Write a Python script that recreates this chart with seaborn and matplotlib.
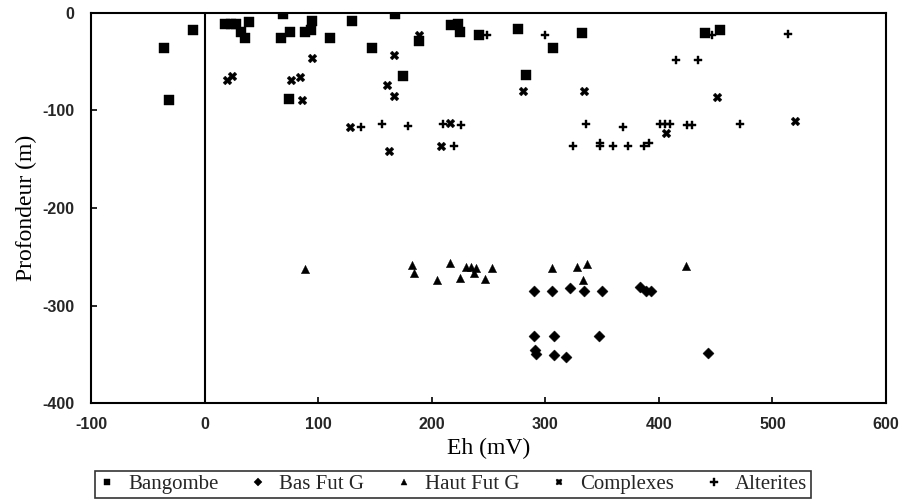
import matplotlib
matplotlib.use("Agg")
import matplotlib.pyplot as plt
import seaborn as sns
import pandas as pd

# ---------------- data ----------------
bangombe_eh = [-10, -36, -31, 18, 23, 28, 32, 36, 39, 69, 67, 75, 88, 94, 95, 110,
               130, 147, 168, 189, 217, 223, 225, 242, 276, 307, 332, 441, 454,
               175, 283, 74]
bangombe_z = [-18, -36, -89, -12, -12, -12, -20, -26, -10, -1, -26, -20, -20, -18, -9, -26,
              -9, -36, -1, -29, -13, -12, -20, -23, -17, -36, -21, -21, -18,
              -65, -64, -88]

basfut_eh = [290, 306, 322, 334, 350, 383, 389, 393, 290, 308, 347, 291, 292, 308, 318, 443]
basfut_z = [-285, -285, -282, -285, -285, -281, -285, -285, -331, -331, -331, -345, -350,
            -351, -353, -349]

hautfut_eh = [88, 183, 184, 205, 216, 225, 230, 235, 239, 237, 247, 253, 306, 328, 337, 333, 424]
hautfut_z = [-262, -258, -267, -274, -256, -272, -260, -260, -261, -267, -273, -261, -261,
             -260, -257, -274, -259]

complexes_eh = [20, 24, 76, 84, 86, 95, 128, 167, 189, 161, 167, 216, 162, 208, 280, 334,
                406, 451, 520]
complexes_z = [-69, -65, -69, -66, -89, -46, -117, -43, -23, -74, -85, -113, -142, -137,
               -80, -80, -123, -86, -111]

alterites_eh = [138, 156, 179, 210, 226, 220, 300, 324, 336, 348, 348, 360, 368, 373, 387,
                391, 401, 405, 410, 425, 429, 415, 434, 471, 514, 447, 249]
alterites_z = [-117, -114, -116, -114, -115, -137, -23, -137, -114, -133, -137, -137, -117,
               -137, -137, -133, -114, -114, -114, -115, -115, -48, -48, -114, -22, -23, -23]

groups = ["Bangombe", "Bas Fut G", "Haut Fut G", "Complexes", "Alterites"]
x_ticks = [-100, 0, 100, 200, 300, 400, 500, 600]
y_ticks = [0, -100, -200, -300, -400]

series = {
    "Bangombe": (bangombe_eh, bangombe_z),
    "Bas Fut G": (basfut_eh, basfut_z),
    "Haut Fut G": (hautfut_eh, hautfut_z),
    "Complexes": (complexes_eh, complexes_z),
    "Alterites": (alterites_eh, alterites_z),
}
rows = []
for g in groups:
    for e, z in zip(*series[g]):
        rows.append({"Eh": e, "Profondeur": z, "Groupe": g})
df = pd.DataFrame(rows)

# ---------------- style ----------------
sns.set_theme(style="white")
plt.rcParams["font.family"] = ["Liberation Serif", "DejaVu Serif"]

markers = {"Bangombe": "s", "Bas Fut G": "D", "Haut Fut G": "^",
           "Complexes": "X", "Alterites": "P"}
sizes = {"Bangombe": 42, "Bas Fut G": 32, "Haut Fut G": 36,
         "Complexes": 40, "Alterites": 38}

fig = plt.figure(figsize=(9.01, 5.01), dpi=100)
ax = fig.add_axes([0.101, 0.195, 0.8824, 0.7797])

for g in groups:
    sub = df[df["Groupe"] == g]
    sns.scatterplot(data=sub, x="Eh", y="Profondeur", marker=markers[g], s=sizes[g],
                    color="black", edgecolor="black", linewidth=0.3, ax=ax, label=g,
                    legend=False)

ax.axvline(0, color="black", lw=1.5, zorder=1)

ax.set_xlim(-100, 600)
ax.set_ylim(-400, 0)
ax.set_xticks(x_ticks)
ax.set_yticks(y_ticks)
tick_font = {"family": ["Liberation Sans Narrow", "Liberation Sans", "DejaVu Sans"],
             "weight": "bold", "size": 11.5}
ax.set_xticklabels([str(t) for t in x_ticks], fontdict=tick_font)
ax.set_yticklabels([str(t) for t in y_ticks], fontdict=tick_font)
ax.tick_params(axis="both", direction="in", length=4, width=1.2, color="black",
               bottom=True, left=True, top=False, right=False)
ax.tick_params(axis="x", pad=10)
ax.tick_params(axis="y", pad=12)

for sp in ax.spines.values():
    sp.set_color("black")
    sp.set_linewidth(1.5)

ax.set_xlabel("Eh (mV)", fontsize=17, labelpad=4, color="black")
ax.set_ylabel("Profondeur (m)", fontsize=17, labelpad=4, color="black")

handles = []
hsize = {"Bangombe": 5, "Bas Fut G": 4.5, "Haut Fut G": 5, "Complexes": 5, "Alterites": 5.5}
for g in groups:
    h = plt.Line2D([], [], marker=markers[g], linestyle="", color="black",
                   markersize=hsize[g], markeredgewidth=0.3)
    handles.append(h)
leg = fig.legend(handles, groups, loc="lower left", bbox_to_anchor=(0.105, 0.005, 0.795, 0.063),
                 mode="expand", ncol=5, frameon=True, fancybox=False, fontsize=15,
                 handlelength=0.8, handletextpad=0.6, columnspacing=1.2, borderpad=0.2,
                 borderaxespad=0.0)
leg.get_frame().set_edgecolor("black")
leg.get_frame().set_linewidth(1.2)

fig.savefig("out.png", dpi=100, facecolor="white")
